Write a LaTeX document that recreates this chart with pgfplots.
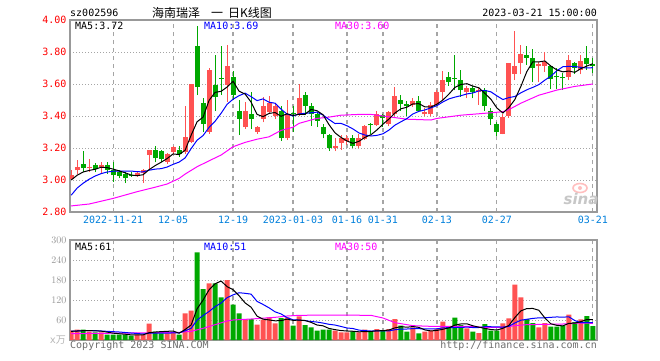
\documentclass[border=0pt]{standalone}
\usepackage{fontspec}
\setmainfont{DejaVu Sans Mono}
\newfontfamily\cjk{Noto Sans CJK SC}
\newfontfamily\logofont{DejaVu Sans}
\usepackage{pgfplots}
\usepackage{pgfplotstable}
\pgfplotsset{compat=1.18}

\definecolor{upred}{RGB}{255,82,82}
\definecolor{downgreen}{RGB}{0,168,0}
\definecolor{gridgray}{RGB}{165,165,165}
\definecolor{framegray}{RGB}{153,153,153}
\definecolor{datblue}{RGB}{0,128,220}
\definecolor{maten}{RGB}{0,0,255}
\definecolor{mathirty}{RGB}{255,0,255}
\definecolor{pricered}{RGB}{255,0,0}
\definecolor{volgray}{RGB}{150,150,150}
\definecolor{footgray}{RGB}{110,110,110}

% daily bars: open, high, low, close, volume (10k shares), moving averages
\pgfplotstableread{
i O H L C V m5 m10 v5 v10
0 3.005 3.06 3.00 3.03 28 3.000 2.905 26 27
1 3.06 3.125 3.04 3.08 31 3.030 2.950 27 27
2 3.10 3.18 3.05 3.075 31 3.050 2.980 28 28
3 3.072 3.13 3.05 3.08 25 3.060 3.005 28 28
4 3.095 3.105 3.05 3.07 23 3.067 3.025 27.6 28
5 3.08 3.115 3.04 3.095 23 3.080 3.040 26.6 27
6 3.095 3.115 3.04 3.065 16 3.077 3.050 23.6 26
7 3.06 3.115 2.99 3.03 16 3.068 3.055 20.6 25
8 3.05 3.06 3.01 3.025 16 3.057 3.055 18.8 24
9 3.035 3.05 2.98 3.01 16 3.045 3.056 17.4 22.5
10 3.03 3.05 3.02 3.022 13 3.031 3.056 15.4 21
11 3.03 3.055 3.02 3.045 16 3.027 3.052 15.4 19.5
12 3.045 3.07 2.98 3.06 16 3.033 3.051 15.4 18
13 3.155 3.19 3.07 3.185 49 3.065 3.061 22 20.4
14 3.19 3.21 3.11 3.135 25 3.090 3.068 23.8 20.6
15 3.18 3.19 3.115 3.13 20 3.111 3.071 25.2 20.3
16 3.115 3.17 3.10 3.16 20 3.134 3.081 26 20.7
17 3.175 3.215 3.165 3.205 21 3.163 3.098 27 21.2
18 3.185 3.21 3.145 3.165 16 3.159 3.112 20.4 21.2
19 3.175 3.46 3.165 3.27 80 3.186 3.138 31.4 27.6
20 3.24 3.60 3.23 3.60 88 3.280 3.196 45 35.1
21 3.84 3.96 3.53 3.58 263 3.364 3.249 93.6 59.8
22 3.48 3.51 3.30 3.35 153 3.393 3.278 120 73.5
23 3.30 3.70 3.29 3.69 170 3.498 3.329 150.8 85.6
24 3.595 3.78 3.43 3.52 170 3.548 3.367 168.8 100.1
25 3.64 3.84 3.53 3.63 128 3.554 3.417 176.8 110.9
26 3.595 3.845 3.49 3.715 180 3.581 3.473 160.2 126.9
27 3.645 3.68 3.50 3.53 106 3.617 3.505 150.8 135.4
28 3.43 3.50 3.28 3.38 80 3.555 3.527 132.8 141.8
29 3.33 3.49 3.32 3.43 63 3.537 3.543 111.4 140.1
30 3.41 3.55 3.32 3.38 63 3.487 3.521 98.4 137.6
31 3.30 3.34 3.29 3.33 46 3.410 3.496 71.6 115.9
32 3.38 3.52 3.36 3.46 61 3.396 3.507 62.6 106.7
33 3.425 3.525 3.41 3.48 68 3.416 3.486 60.2 96.5
34 3.40 3.48 3.38 3.46 50 3.422 3.480 57.6 84.5
35 3.43 3.46 3.245 3.26 66 3.398 3.443 58.2 78.3
36 3.26 3.50 3.25 3.41 68 3.414 3.412 62.6 67.1
37 3.42 3.46 3.30 3.41 43 3.404 3.400 59 60.8
38 3.405 3.60 3.40 3.51 71 3.410 3.413 59.6 59.9
39 3.53 3.55 3.405 3.465 45 3.411 3.417 58.6 58.1
40 3.46 3.48 3.34 3.41 38 3.441 3.420 53 55.6
41 3.41 3.42 3.33 3.37 28 3.433 3.424 45 53.8
42 3.33 3.35 3.26 3.285 31 3.408 3.406 42.6 50.8
43 3.28 3.29 3.18 3.20 31 3.346 3.378 34.6 47.1
44 3.20 3.26 3.18 3.21 28 3.295 3.353 31.2 44.9
45 3.23 3.28 3.19 3.265 23 3.266 3.354 28.2 40.6
46 3.245 3.28 3.22 3.26 23 3.244 3.339 27.2 36.1
47 3.265 3.28 3.20 3.21 26 3.229 3.319 26.2 34.4
48 3.21 3.29 3.20 3.265 23 3.242 3.294 24.6 29.6
49 3.255 3.345 3.25 3.335 31 3.267 3.281 25.2 28.2
50 3.35 3.355 3.29 3.342 25 3.283 3.275 25.6 26.9
51 3.345 3.43 3.34 3.41 33 3.313 3.279 27.6 27.4
52 3.405 3.415 3.33 3.39 28 3.349 3.289 28 27.1
53 3.35 3.43 3.335 3.425 33 3.381 3.312 30 27.3
54 3.41 3.58 3.40 3.525 63 3.419 3.343 36.4 30.8
55 3.50 3.53 3.43 3.475 43 3.445 3.364 40 32.8
56 3.475 3.495 3.40 3.46 25 3.455 3.384 38.4 33
57 3.47 3.515 3.455 3.495 38 3.476 3.413 40.4 34.2
58 3.495 3.525 3.425 3.43 20 3.477 3.429 37.8 33.9
59 3.41 3.45 3.40 3.425 25 3.457 3.438 30.2 33.3
60 3.41 3.485 3.40 3.47 28 3.456 3.451 27.2 33.6
61 3.47 3.56 3.46 3.55 33 3.474 3.465 28.8 33.6
62 3.55 3.68 3.50 3.625 55 3.500 3.488 32.2 36.3
63 3.645 3.675 3.59 3.615 41 3.537 3.507 36.4 37.1
64 3.64 3.78 3.56 3.632 67 3.579 3.518 44.8 37.5
65 3.625 3.69 3.52 3.56 45 3.597 3.527 48.2 37.7
66 3.55 3.59 3.51 3.575 35 3.602 3.538 48.6 38.7
67 3.575 3.59 3.51 3.55 25 3.587 3.544 42.6 37.4
68 3.55 3.58 3.47 3.56 21 3.576 3.557 38.6 37.5
69 3.56 3.575 3.43 3.46 48 3.541 3.560 34.8 39.8
70 3.43 3.45 3.345 3.38 28 3.505 3.551 31.4 39.8
71 3.35 3.36 3.275 3.30 28 3.450 3.526 30 39.3
72 3.29 3.41 3.285 3.395 50 3.419 3.503 35 38.8
73 3.40 3.73 3.39 3.73 65 3.453 3.515 43.8 41.2
74 3.665 3.93 3.625 3.71 166 3.503 3.522 67.4 51.1
75 3.73 3.845 3.66 3.79 128 3.585 3.545 87.4 59.4
76 3.78 3.84 3.72 3.765 63 3.678 3.564 94.4 62.2
77 3.765 3.82 3.61 3.70 51 3.739 3.579 94.6 64.8
78 3.715 3.74 3.61 3.725 38 3.738 3.596 89.2 66.5
79 3.715 3.80 3.675 3.74 51 3.744 3.624 66.2 66.8
80 3.71 3.72 3.57 3.63 40 3.712 3.649 48.6 68
81 3.65 3.70 3.57 3.642 40 3.688 3.683 44 69.2
82 3.645 3.67 3.565 3.637 43 3.676 3.708 42.4 68.5
83 3.645 3.78 3.625 3.75 76 3.681 3.710 50 69.6
84 3.73 3.74 3.665 3.70 54 3.673 3.709 50.6 58.4
85 3.69 3.78 3.66 3.745 62 3.696 3.704 55 51.8
86 3.765 3.835 3.69 3.725 72 3.712 3.700 61.4 52.7
87 3.725 3.76 3.67 3.715 42 3.727 3.702 61.2 51.8
}\candles

% 30-day average of the close
\pgfplotstableread{
i m30
0 2.838
3 2.85
7 2.885
11 2.927
14 2.955
16 2.975
18 3.01
19 3.037
21 3.083
23 3.12
25 3.156
27 3.208
29 3.235
31 3.255
33 3.27
35 3.31
37 3.33
38 3.354
40 3.375
41 3.385
43 3.393
45 3.405
48 3.41
50 3.41
52 3.40
54 3.39
56 3.38
60 3.375
61 3.385
63 3.395
65 3.405
70 3.42
72 3.427
73 3.44
75 3.48
78 3.53
81 3.562
84 3.585
87 3.60
}\pricethirty

% 30-day average of the volume
\pgfplotstableread{
i v30
0 19
10 21
18 23
20 26
22 35
24 46
26 57
27 60
30 63
34 68
36 72
38 74
43 75
50 74
52 66
54 52
57 43
60 41
66 41
69 38
72 38
74 43
76 46
82 48
85 51
87 50
}\volthirty

\pgfplotsset{
  kpanel/.style={
    anchor=south west, width=527pt, scale only axis,
    xmin=-0.2, xmax=87.7,
    axis line style={framegray, line width=1.5pt},
    xmajorgrids, ymajorgrids,
    major x grid style={gridgray, line width=1.2pt, dash pattern=on 4pt off 4pt},
    major y grid style={gridgray, line width=1pt, dash pattern=on 1pt off 2pt},
    major tick length=0pt,
    xtick={7,17,27,37,46,52,61,71,87},
    ticklabel style={font=\fontsize{10}{12}\selectfont},
  },
  % vertical segment from y to y + (y error plus), nothing else drawn
  seg/.style 2 args={forget plot, draw=none, no markers,
    error bars/.cd, y dir=plus, y explicit, error mark=none,
    error bar style={draw=#1, solid, line width=#2}},
}

\begin{document}
\begin{tikzpicture}[x=1pt,y=1pt]
\fill[white] (0,0) rectangle (660,360);

% price panel
\begin{axis}[kpanel, at={(70pt,148pt)}, height=192pt,
    ymin=2.8, ymax=4.0,
    ytick={2.8,3.0,3.2,3.4,3.6,3.8,4.0},
    yticklabels={2.80,3.00,3.20,3.40,3.60,3.80,4.00},
    yticklabel style={pricered},
    xticklabels={2022-11-21,12-05,12-19,2023-01-03,01-16,01-31,02-13,02-27,03-21},
    xticklabel style={datblue, yshift=-1pt}]
  % wicks
  \addplot[seg={upred}{1pt}] table[x=i,
      y expr={\thisrow{C}>=\thisrow{O} ? \thisrow{L} : nan},
      y error plus expr={\thisrow{H}-\thisrow{L}}] {\candles};
  \addplot[seg={downgreen}{1pt}] table[x=i,
      y expr={\thisrow{C}<\thisrow{O} ? \thisrow{L} : nan},
      y error plus expr={\thisrow{H}-\thisrow{L}}] {\candles};
  % bodies
  \addplot[seg={upred}{5pt}] table[x=i,
      y expr={\thisrow{C}>=\thisrow{O} ? \thisrow{O} : nan},
      y error plus expr={\thisrow{C}-\thisrow{O}}] {\candles};
  \addplot[seg={downgreen}{5pt}] table[x=i,
      y expr={\thisrow{C}<\thisrow{O} ? \thisrow{C} : nan},
      y error plus expr={\thisrow{O}-\thisrow{C}}] {\candles};
  % moving averages
  \addplot[mathirty, line width=1pt, no markers] table[x=i, y=m30] {\pricethirty};
  \addplot[maten, line width=1pt, no markers] table[x=i, y=m10] {\candles};
  \addplot[black, line width=1pt, no markers] table[x=i, y=m5] {\candles};
\end{axis}

% volume panel
\begin{axis}[kpanel, at={(70pt,20pt)}, height=100pt,
    ymin=0, ymax=300,
    ytick={60,120,180,240,300},
    yticklabel style={volgray},
    xticklabels={}]
  \addplot[ybar, bar width=5pt, bar shift=0pt, fill=upred, draw=none, forget plot]
    table[x=i, y expr={\thisrow{C}>=\thisrow{O} ? \thisrow{V} : nan}] {\candles};
  \addplot[ybar, bar width=5pt, bar shift=0pt, fill=downgreen, draw=none, forget plot]
    table[x=i, y expr={\thisrow{C}<\thisrow{O} ? \thisrow{V} : nan}] {\candles};
  \addplot[mathirty, line width=1pt, no markers] table[x=i, y=v30] {\volthirty};
  \addplot[maten, line width=1pt, no markers] table[x=i, y=v10] {\candles};
  \addplot[black, line width=1pt, no markers] table[x=i, y=v5] {\candles};
\end{axis}

% header
\begin{scope}[every node/.style={inner sep=0pt, font=\fontsize{10}{12}\selectfont}]
  \node[anchor=west] at (70,347) {sz002596};
  \node[anchor=west, font=\cjk\fontsize{12}{14}\selectfont] at (152,347)
    {海南瑞泽\hspace{11pt}一\hspace{5pt}日K线图};
  \node[anchor=east] at (597,347) {2023-03-21 15:00:00};
  % legend values, price panel
  \node[anchor=west] at (75,334) {MA5:3.72};
  \node[anchor=west, text=maten] at (204,334) {MA10:3.69};
  \node[anchor=west, text=mathirty] at (335,334) {MA30:3.60};
  % legend values, volume panel
  \node[anchor=west] at (75,113) {MA5:61};
  \node[anchor=west, text=maten] at (204,113) {MA10:51};
  \node[anchor=west, text=mathirty] at (335,113) {MA30:50};
  % volume unit
  \node[anchor=east, text=volgray!70] at (66,20) {x{\cjk 万}};
  % footer
  \node[anchor=west, text=footgray] at (70,14) {Copyright 2023 SINA.COM};
  \node[anchor=east, text=footgray] at (597,14) {http://finance.sina.com.cn};
\end{scope}

% watermark
\draw[red!25, line width=1.6pt] (580,172) ellipse (7 and 4.5);
\fill[red!25] (580,172) circle (2);
\node[inner sep=0pt, text=black!22, font=\logofont\bfseries\itshape\fontsize{15}{15}\selectfont] at (581,161) {sina};

\pgfresetboundingbox
\path[use as bounding box] (0,0) rectangle (660,360);
\end{tikzpicture}
\end{document}
